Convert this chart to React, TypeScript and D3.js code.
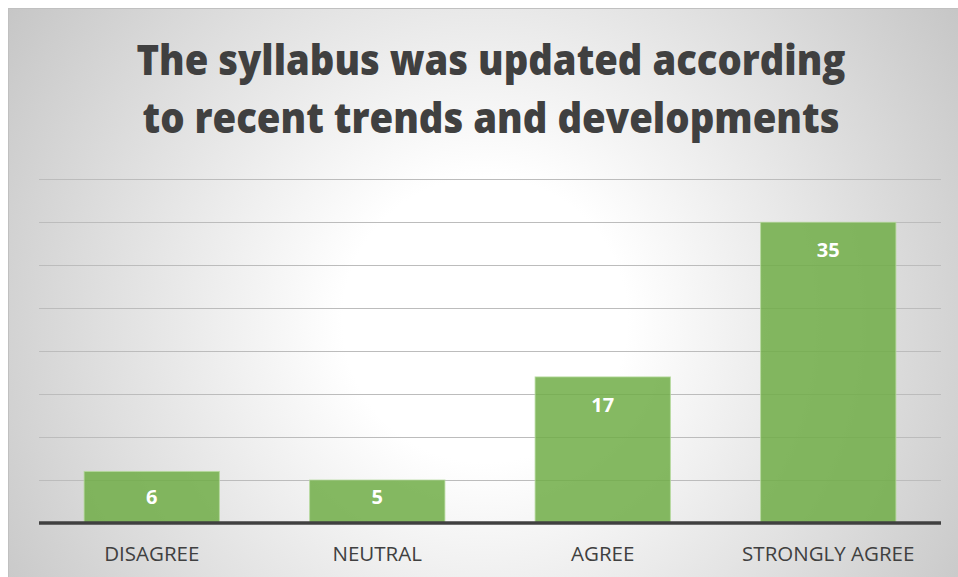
import React from "react";
import * as d3 from "d3";

const categories = ["DISAGREE", "NEUTRAL", "AGREE", "STRONGLY AGREE"];
const values = [6, 5, 17, 35];
const yTicks = [0, 5, 10, 15, 20, 25, 30, 35, 40];
const titleLines = ["The syllabus was updated according", "to recent trends and developments"];

const W = 958;
const H = 577;
const plot = { left: 39, right: 941, top: 179.3, bottom: 523 };

export default function App() {
  const x = d3
    .scaleBand<string>()
    .domain(categories)
    .range([plot.left, plot.right])
    .paddingInner(0.4)
    .paddingOuter(0.2);
  const y = d3.scaleLinear().domain([0, 40]).range([plot.bottom, plot.top]);
  const font = "'Open Sans', 'Noto Sans', sans-serif";
  const titleWidths = [709, 697];
  const titleBaselines = [75, 133];
  return (
    <svg
      width={W}
      height={H}
      style={{ position: "fixed", left: 0, top: 0, display: "block" }}
    >
      <defs>
        <radialGradient id="bg" gradientUnits="userSpaceOnUse" cx={485} cy={320} r={570}>
          <stop offset="0" stopColor="#ffffff" />
          <stop offset="0.25" stopColor="#ffffff" />
          <stop offset="1" stopColor="#c6c6c6" />
        </radialGradient>
      </defs>
      <rect x={0} y={0} width={W} height={H} fill="#ffffff" />
      <rect x={8.5} y={8.5} width={W + 10} height={H + 10} fill="url(#bg)" stroke="#c0c0c0" strokeWidth={1} />
      {titleLines.map((t, i) => (
        <text
          key={i}
          x={491}
          y={titleBaselines[i]}
          textAnchor="middle"
          fontFamily={font}
          fontWeight={800}
          fontSize={42}
          fill="#404040"
          textLength={titleWidths[i]}
          lengthAdjust="spacingAndGlyphs"
        >
          {t}
        </text>
      ))}
      {yTicks.slice(1).map((t) => (
        <line
          key={t}
          x1={plot.left}
          x2={plot.right}
          y1={Math.round(y(t)) + 0.5}
          y2={Math.round(y(t)) + 0.5}
          stroke="#bcbcbc"
          strokeWidth={1}
        />
      ))}
      {categories.map((c, i) => (
        <rect
          key={c}
          x={x(c)!}
          y={y(values[i])}
          width={x.bandwidth()}
          height={y(0) - y(values[i])}
          fill="#70ad47"
          fillOpacity={0.85}
          stroke="#b5d99c"
          strokeOpacity={0.8}
          strokeWidth={1}
        />
      ))}
      <line x1={plot.left} x2={plot.right} y1={y(0)} y2={y(0)} stroke="#404040" strokeWidth={3.5} />
      {categories.map((c, i) => (
        <text
          key={c}
          x={x(c)! + x.bandwidth() / 2}
          y={Math.min(y(values[i]) + 35, y(0) - 19)}
          textAnchor="middle"
          fontFamily={font}
          fontWeight={700}
          fontSize={20}
          fill="#ffffff"
        >
          {values[i]}
        </text>
      ))}
      {categories.map((c) => (
        <text
          key={c}
          x={x(c)! + x.bandwidth() / 2}
          y={561}
          textAnchor="middle"
          fontFamily={font}
          fontSize={20.5}
          fill="#404040"
        >
          {c}
        </text>
      ))}
    </svg>
  );
}
